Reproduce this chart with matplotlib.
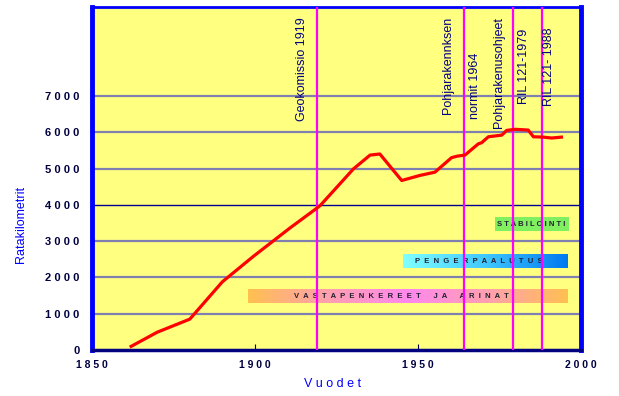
import numpy as np
import matplotlib.pyplot as plt
from matplotlib.colors import LinearSegmentedColormap

# Ratakilometrit vuosittain
vuodet = [1862, 1870, 1880, 1890, 1899.5, 1910.7, 1918.4, 1920, 1930.2, 1935.3, 1938.3,
          1945, 1950.6, 1955.2, 1960.3, 1962, 1964.4, 1968.5, 1969.5, 1971.6, 1975.7,
          1977.2, 1979.8, 1983.8, 1985.4, 1988.4, 1991, 1994]
ratakm = [100, 490, 850, 1880, 2580, 3360, 3870, 3980, 4990, 5370, 5400,
          4670, 4810, 4900, 5300, 5340, 5370, 5680, 5710, 5875, 5920,
          6050, 6080, 6060, 5875, 5865, 5840, 5865]

# Ohjeet / normit (pystyviivat)
ohje_vuodet = [1919, 1964, 1979, 1988]
ohje_tekstit = ["Geokomissio 1919", "Pohjarakennksen", "normit 1964",
                "Pohjarakenusohjeet", "RIL 121-1979", "RIL 121- 1988"]
ohje_x = [1914.4, 1959.3, 1967.4, 1974.7, 1982.4, 1990.1]
ohje_top = [9170, 9170, 8200, 9170, 8840, 8890]

# Menetelmat (palkit)
menetelmat = ["STABILOINTI", "PENGERPAALUTUS", "VASTAPENKEREET JA ARINAT"]
men_alku = [1973.6, 1945.4, 1897.9]
men_loppu = [1996, 1996, 1996]
men_taso = [3470, 2450, 1480]

yticks = [1000, 2000, 3000, 4000, 5000, 6000, 7000]
xticks = [1850, 1900, 1950, 2000]

fig = plt.figure(figsize=(6.19, 3.96), dpi=100)
ax = fig.add_axes([92/619, 1 - 350/396, 489/619, 343/396])
ax.set_facecolor('#ffff80')

# vaakaviivat
for y in yticks:
    if y == 4000:
        ax.axhline(y, color='#000090', lw=1.0, zorder=1)
    else:
        ax.axhline(y, color='#8080b0', lw=1.6, zorder=1)

# palkit gradienteilla
korkeus = 360
cmaps = [
    LinearSegmentedColormap.from_list('g', ['#80f060', '#80f060']),
    LinearSegmentedColormap.from_list('b', ['#80ffff', '#40c8ff', '#0078f0']),
    LinearSegmentedColormap.from_list('o', ['#ffc050', '#ffa0b0', '#ff88ee', '#ffa0b0', '#ffc050']),
]
valit = [" ", "  ", "  "]
grad = np.linspace(0, 1, 256).reshape(1, -1)
for nimi, a, l, t, cm, v in zip(menetelmat, men_alku, men_loppu, men_taso, cmaps, valit):
    ax.imshow(grad, cmap=cm, aspect='auto', extent=[a, l, t - korkeus/2, t + korkeus/2], zorder=2)
    teksti = (v * 3).join(v.join(w) for w in nimi.split(" "))
    xc = (a + l) / 2 if nimi == "STABILOINTI" else (a + l) / 2 - 2
    ax.text(xc, t, teksti, fontsize=5.5, fontweight='bold', family='Liberation Sans',
            color='#202030', ha='center', va='center', zorder=3)
ax.set_xlim(1850, 2000)
ax.set_ylim(0, 9450)

# pystyviivat
for v in ohje_vuodet:
    ax.axvline(v, color='#ff00ff', lw=1.6, zorder=4)

for x, s, t in zip(ohje_x, ohje_tekstit, ohje_top):
    ax.text(x, t, s, rotation=90, fontsize=9, family='Liberation Sans',
            color='#000080', ha='center', va='top', zorder=5)

# ratakilometrit
ax.plot(vuodet, ratakm, color='#ff0000', lw=2.3, zorder=6)

# akselit
ax.set_xticks(xticks)
ax.set_xticklabels([" ".join(str(x)) for x in xticks], fontsize=7.5,
                   fontweight='bold', family='Liberation Sans', color='#000040')
ax.set_yticks([0] + yticks)
ax.set_yticklabels([" ".join(str(y)) for y in [0] + yticks], fontsize=8,
                   fontweight='bold', family='Liberation Sans', color='#000040')
ax.tick_params(axis='x', direction='in', length=4, color='#000040', pad=7)
ax.tick_params(axis='y', length=0, pad=9)

for s in ['left', 'right']:
    ax.spines[s].set_color('#0000ff')
    ax.spines[s].set_linewidth(3.5)
ax.spines['top'].set_color('#0000ff')
ax.spines['top'].set_linewidth(2)
ax.spines['bottom'].set_color('#000080')
ax.spines['bottom'].set_linewidth(2.5)

fig.text(21/619, 1 - 224/396, "Ratakilometrit", rotation=90, fontsize=9,
         family='Liberation Sans', color='#0000ff', ha='center', va='center')
fig.text(333/619, 1 - 384/396, "V u o d e t", fontsize=9,
         family='Liberation Sans', color='#0000ff', ha='center', va='center')

plt.savefig('out.png', dpi=100)
